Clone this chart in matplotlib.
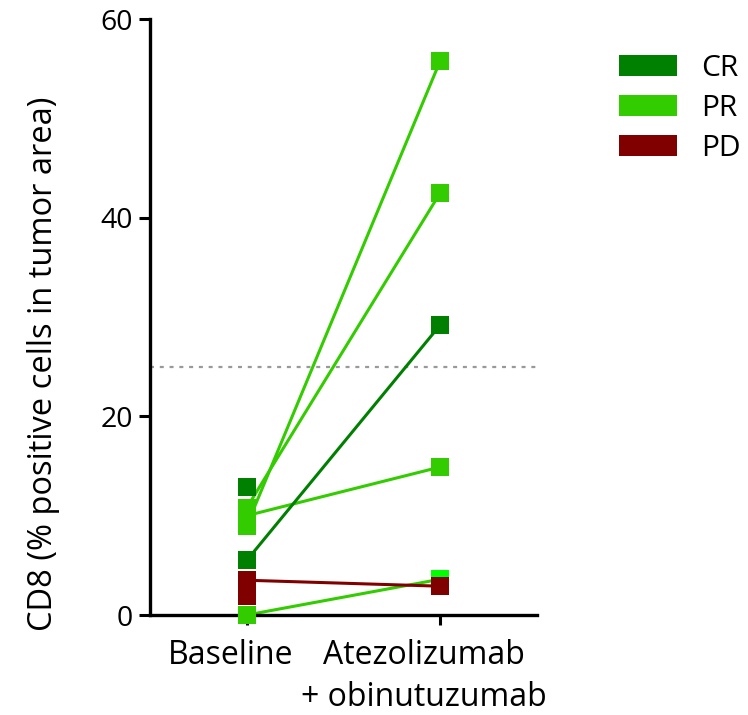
import numpy as np
import matplotlib
matplotlib.use("Agg")
import matplotlib.pyplot as plt
import matplotlib.transforms as mtransforms
from matplotlib.patches import Patch

plt.rcParams['font.family'] = ['Open Sans', 'DejaVu Sans']

# Paired CD8 measurements per patient (nan = no on-treatment sample)
timepoints = ["Baseline", "Atezolizumab\n+ obinutuzumab"]
baseline = [9.0, 10.8, 10.0, 0.0, 5.5, 12.9, 3.5, 1.9]
on_treatment = [55.8, 42.5, 14.9, 3.6, 29.2, np.nan, 2.9, np.nan]
response = ["PR", "PR", "PR", "PR", "CR", "CR", "PD", "PD"]
threshold = 25

response_order = ["CR", "PR", "PD"]
colors = {"CR": "#008000", "PR": "#33CC00", "PD": "#800000"}
# one on-treatment PR sample shown in a brighter green
post_marker_colors = {3: "#00FF00"}

fig = plt.figure(figsize=(7.48, 7.15), dpi=100)
ax = fig.add_axes([150 / 748, 1 - 615 / 715, 387 / 748, 596 / 715])

x = np.arange(len(timepoints))

ax.axhline(threshold, color="#999999", lw=1.6, linestyle=(0, (1.8, 2.6)),
           dash_capstyle="butt", zorder=1)

# connecting lines
for b, p, r in zip(baseline, on_treatment, response):
    if not np.isnan(p):
        ax.plot(x, [b, p], color=colors[r], lw=2.2, zorder=2,
                solid_capstyle="butt")

ms = 13
# on-treatment markers
for i, (p, r) in enumerate(zip(on_treatment, response)):
    if not np.isnan(p):
        c = post_marker_colors.get(i, colors[r])
        ax.plot(x[1], p, "s", ms=ms, color=c, mec=c, mew=0,
                zorder=3 + (1 if r == "PD" else 0), clip_on=False)
# baseline markers, PR first, then CR and PD on top
layer = {"PR": 5, "CR": 6, "PD": 7}
for b, r in zip(baseline, response):
    ax.plot(x[0], b, "s", ms=ms, color=colors[r], mec=colors[r], mew=0,
            zorder=layer[r], clip_on=False)

ax.set_xlim(-0.5, 1.5)
ax.set_ylim(0, 60)
ax.set_yticks([0, 20, 40, 60])
ax.set_xticks(x)
ax.set_xticklabels(timepoints, fontsize=23, linespacing=1.36)
ax.tick_params(axis="y", labelsize=20.5, width=2.2, length=8, pad=4)
ax.tick_params(axis="x", width=2.2, length=7, pad=10)
shift = mtransforms.ScaledTranslation(-16 / 100, 0, fig.dpi_scale_trans)
for lbl in ax.get_xticklabels():
    lbl.set_transform(lbl.get_transform() + shift)
for s in ["top", "right"]:
    ax.spines[s].set_visible(False)
for s in ["left", "bottom"]:
    ax.spines[s].set_linewidth(2.4)

ax.set_ylabel("CD8 (% positive cells in tumor area)", fontsize=23.5, va="center")
ax.yaxis.set_label_coords((43 - 150) / 387, (615 - 364) / 596)

handles = [Patch(facecolor=colors[r], edgecolor="none", label=r)
           for r in response_order]
fig.legend(handles=handles, loc="upper left",
           bbox_to_anchor=(619 / 748, 1 - 54 / 715), frameon=False,
           fontsize=21.5, handlelength=1.94, handleheight=0.67,
           handletextpad=0.8, labelspacing=0.37, borderpad=0, borderaxespad=0)

fig.savefig("out.png", dpi=100)
